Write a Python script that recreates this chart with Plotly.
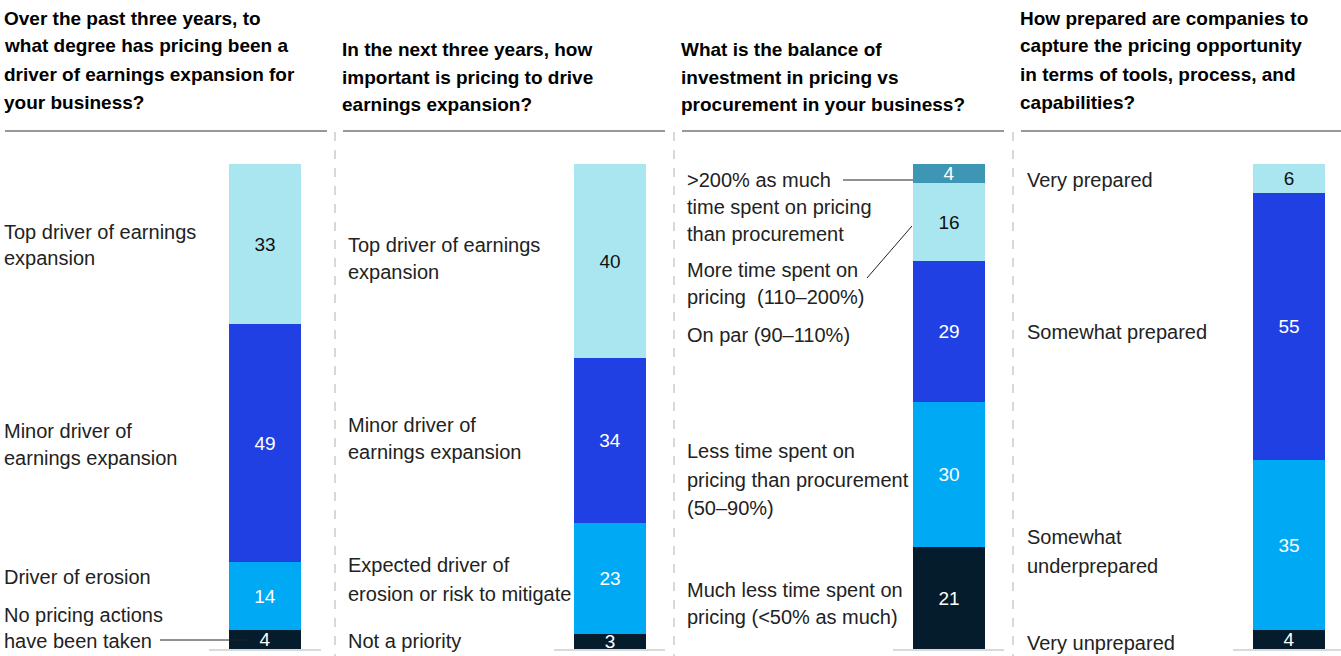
import plotly.graph_objects as go

# survey questions (title lines)
titles = [
    ["Over the past three years, to", "what degree has pricing been a",
     "driver of earnings expansion for", "your business?"],
    ["In the next three years, how", "important is pricing to drive",
     "earnings expansion?"],
    ["What is the balance of", "investment in pricing vs",
     "procurement in your business?"],
    ["How prepared are companies to", "capture the pricing opportunity",
     "in terms of tools, process, and", "capabilities?"],
]
panels = ["p1", "p2", "p3", "p4"]

# values listed bottom -> top
p1_values = [4, 14, 49, 33]
p2_values = [3, 23, 34, 40]
p3_values = [21, 30, 29, 16, 4]
p4_values = [4, 35, 55, 6]
values = [p1_values, p2_values, p3_values, p4_values]

p1_labels = [["No pricing actions", "have been taken"], ["Driver of erosion"],
             ["Minor driver of", "earnings expansion"],
             ["Top driver of earnings", "expansion"]]
p2_labels = [["Not a priority"], ["Expected driver of", "erosion or risk to mitigate"],
             ["Minor driver of", "earnings expansion"],
             ["Top driver of earnings", "expansion"]]
p3_labels = [["Much less time spent on", "pricing (<50% as much)"],
             ["Less time spent on", "pricing than procurement", "(50–90%)"],
             ["On par (90–110%)"],
             ["More time spent on", "pricing  (110–200%)"],
             [">200% as much", "time spent on pricing", "than procurement"]]
p4_labels = [["Very unprepared"], ["Somewhat", "underprepared"],
             ["Somewhat prepared"], ["Very prepared"]]
labels = [p1_labels, p2_labels, p3_labels, p4_labels]

NAVY, SKY, BLUE, CYAN, TEAL = "#051C2C", "#00A9F4", "#2140E3", "#AAE6F0", "#3C96B4"
colors = [[NAVY, SKY, BLUE, CYAN], [NAVY, SKY, BLUE, CYAN],
          [NAVY, SKY, BLUE, CYAN, TEAL], [NAVY, SKY, BLUE, CYAN]]

W, H = 1341, 656
FONT = "Liberation Sans"
bar_centers = [265, 610, 949, 1289]  # px
BAR_W = 72

fig = go.Figure()
for i, p in enumerate(panels):
    xa = "x" if i == 0 else f"x{i + 1}"
    for v, c in zip(values[i], colors[i]):
        fig.add_trace(go.Bar(
            x=[p], y=[v], xaxis=xa, yaxis="y",
            marker=dict(color=c, line=dict(width=0)),
            text=[str(v)], textposition="inside", insidetextanchor="middle",
            constraintext="none", textangle=0, cliponaxis=False,
            textfont=dict(family=FONT, size=19,
                          color="#111111" if c == CYAN else "white"),
            width=1, hoverinfo="skip", showlegend=False))


def py(px):
    return 1 - px / H


ann = []
# titles
panel_left = [2, 340, 679, 1018]
for i, lines in enumerate(titles):
    top = 18 if len(lines) == 4 else 49
    for j, t in enumerate(lines):
        ann.append(dict(x=panel_left[i] / W, y=py(top + 28 * j), xref="paper", yref="paper",
                        text=f"<b>{t}</b>", showarrow=False, xanchor="left", yanchor="middle",
                        font=dict(family=FONT, size=19, color="#000000")))

# category labels (first-line pixel position, bottom -> top order)
label_left = [2, 346, 685, 1025]
label_top = [
    [615, 577, 431, 232],
    [641, 565, 425, 245],
    [590, 451, 335, 270, 180],
    [643, 537, 332, 180],
]
label_gap = [[26, 0, 27, 26], [0, 29, 27, 27], [27, 28.5, 0, 27, 27], [0, 29, 0, 0]]
for i in range(4):
    for k, lines in enumerate(labels[i]):
        for j, t in enumerate(lines):
            ann.append(dict(x=label_left[i] / W, y=py(label_top[i][k] + label_gap[i][k] * j),
                            xref="paper", yref="paper", text=t, showarrow=False,
                            xanchor="left", yanchor="middle",
                            font=dict(family=FONT, size=20, color="#222222")))

shapes = []
# title rules
rules = [(5, 327), (343, 665), (682, 1004), (1021, 1341)]
for a, b in rules:
    shapes.append(dict(type="line", xref="paper", yref="paper", x0=a / W, x1=b / W,
                       y0=py(131), y1=py(131), line=dict(color="#333333", width=1.2)))
# dashed separators
for xs in [335, 674, 1013]:
    shapes.append(dict(type="line", xref="paper", yref="paper", x0=xs / W, x1=xs / W,
                       y0=py(132), y1=0, line=dict(color="#cccccc", width=1.5, dash="dash")))
# baselines under bars
for a, b in [(209, 321), (554, 665), (893, 1004), (1233, 1341)]:
    shapes.append(dict(type="line", xref="paper", yref="paper", x0=a / W, x1=b / W,
                       y0=py(650), y1=py(650), line=dict(color="#cccccc", width=1.5)))
# leader lines
for (x0, y0, x1, y1) in [(160, 640, 250, 640), (843, 180, 913, 180), (867, 278, 912, 226)]:
    shapes.append(dict(type="line", xref="paper", yref="paper", x0=x0 / W, x1=x1 / W,
                       y0=py(y0), y1=py(y1), line=dict(color="#222222", width=1)))

axes = {}
for i, p in enumerate(panels):
    key = "xaxis" if i == 0 else f"xaxis{i + 1}"
    c = bar_centers[i]
    axes[key] = dict(visible=False, domain=[(c - BAR_W / 2) / W, (c + BAR_W / 2) / W],
                     range=[-0.5, 0.5], anchor="y", fixedrange=True)

fig.update_layout(
    width=W, height=H, barmode="stack", bargap=0,
    margin=dict(l=0, r=0, t=0, b=0),
    plot_bgcolor="white", paper_bgcolor="white",
    yaxis=dict(visible=False, range=[-7 / 4.85, 100 + 164 / 4.85], fixedrange=True),
    annotations=ann, shapes=shapes, **axes,
)

fig.write_html("out.html", config={"displayModeBar": False},
               post_script="document.body.style.margin='0';document.body.style.overflow='hidden';")
